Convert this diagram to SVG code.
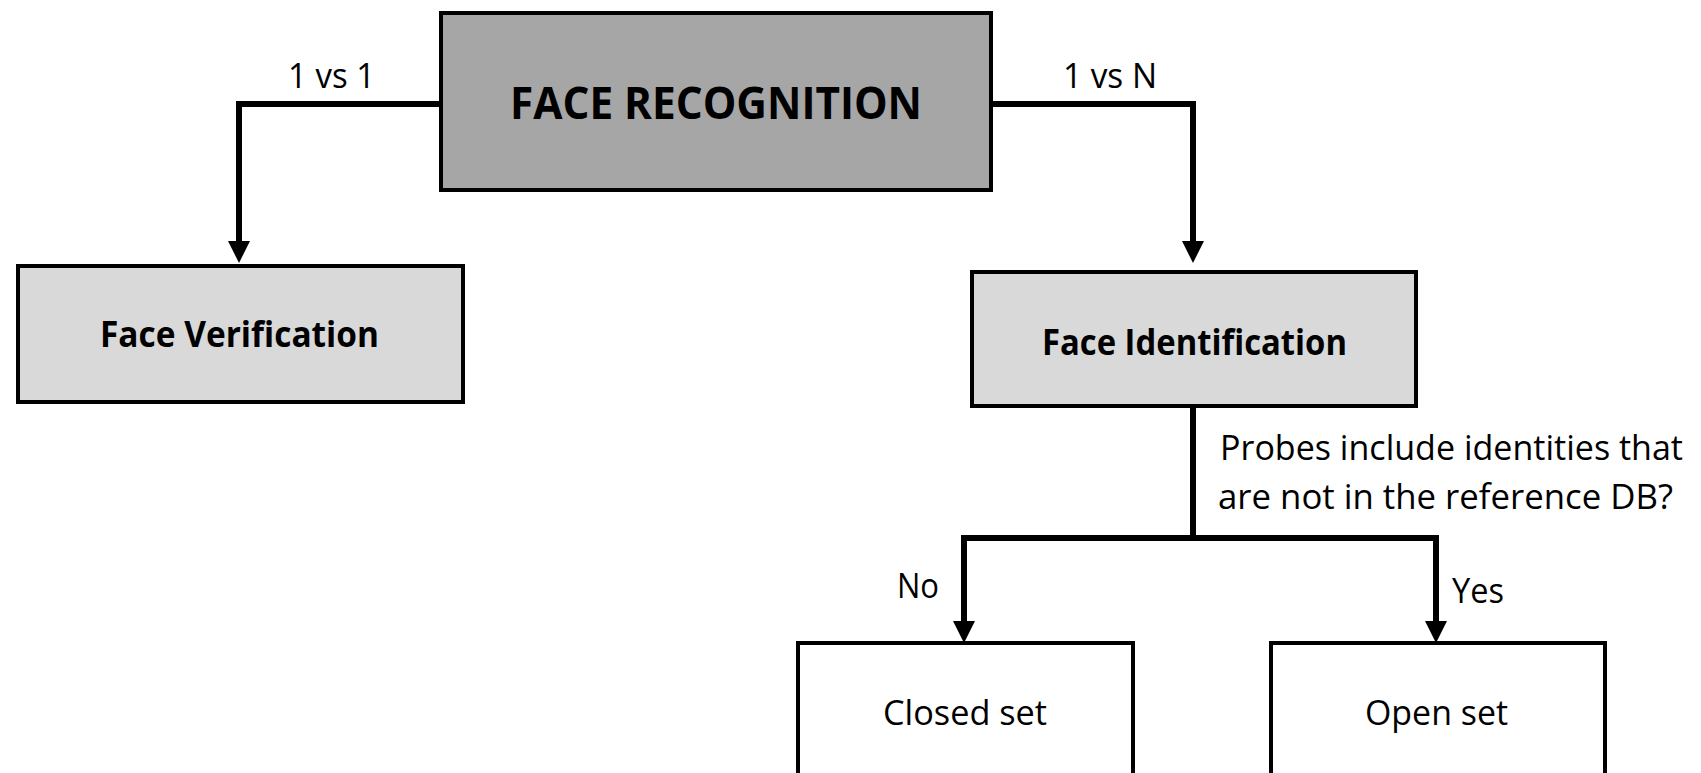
<svg xmlns="http://www.w3.org/2000/svg" width="1701" height="773" viewBox="0 0 1701 773">
  <style>
    .box { stroke: #000; stroke-width: 4; }
    .dark { fill: #a6a6a6; }
    .light { fill: #d9d9d9; }
    .white { fill: #ffffff; }
    .conn { fill: none; stroke: #000; stroke-width: 6; }
    text { font-family: "Open Sans", "Noto Sans", sans-serif; fill: #000; }
    .title { font-size: 44px; font-weight: bold; }
    .node { font-size: 35px; font-weight: bold; }
    .lbl { font-size: 34px; }
  </style>
  <defs>
    <marker id="arrow" viewBox="0 0 22 22" markerWidth="22" markerHeight="22" refX="0" refY="11" orient="auto" markerUnits="userSpaceOnUse">
      <path d="M0,0 L22,11 L0,22 Z" fill="#000"/>
    </marker>
  </defs>
  <rect width="1701" height="773" fill="#ffffff"/>

  <g id="connectors">
    <path class="conn" d="M441,104 H239 V241" marker-end="url(#arrow)"/>
    <path class="conn" d="M991,104 H1193 V241" marker-end="url(#arrow)"/>
    <path class="conn" d="M1193,406 V538"/>
    <path class="conn" d="M961,538 H1439"/>
    <path class="conn" d="M964,535 V621" marker-end="url(#arrow)"/>
    <path class="conn" d="M1436,535 V621" marker-end="url(#arrow)"/>
    <text class="lbl" x="288" y="88" textLength="87" lengthAdjust="spacingAndGlyphs">1 vs 1</text>
    <text class="lbl" x="1063" y="88" textLength="94" lengthAdjust="spacingAndGlyphs">1 vs N</text>
    <text class="lbl" x="1220" y="460" textLength="463" lengthAdjust="spacingAndGlyphs">Probes include identities that</text>
    <text class="lbl" x="1218" y="509" textLength="455" lengthAdjust="spacingAndGlyphs">are not in the reference DB?</text>
    <text class="lbl" x="897" y="598" textLength="42" lengthAdjust="spacingAndGlyphs">No</text>
    <text class="lbl" x="1452" y="603" textLength="52" lengthAdjust="spacingAndGlyphs">Yes</text>
  </g>

  <g id="face-recognition">
    <rect class="box dark" x="441" y="13" width="550" height="177"/>
    <text class="title" x="510" y="119" textLength="412" lengthAdjust="spacingAndGlyphs">FACE RECOGNITION</text>
  </g>

  <g id="face-verification">
    <rect class="box light" x="18" y="266" width="445" height="136"/>
    <text class="node" x="100" y="347" textLength="279" lengthAdjust="spacingAndGlyphs">Face Verification</text>
  </g>

  <g id="face-identification">
    <rect class="box light" x="972" y="272" width="444" height="134"/>
    <text class="node" x="1042" y="355" textLength="305" lengthAdjust="spacingAndGlyphs">Face Identification</text>
  </g>

  <g id="closed-set">
    <rect class="box white" x="798" y="643" width="335" height="200"/>
    <text class="lbl" x="883" y="725" textLength="164" lengthAdjust="spacingAndGlyphs">Closed set</text>
  </g>

  <g id="open-set">
    <rect class="box white" x="1271" y="643" width="334" height="200"/>
    <text class="lbl" x="1365" y="725" textLength="143" lengthAdjust="spacingAndGlyphs">Open set</text>
  </g>
</svg>
